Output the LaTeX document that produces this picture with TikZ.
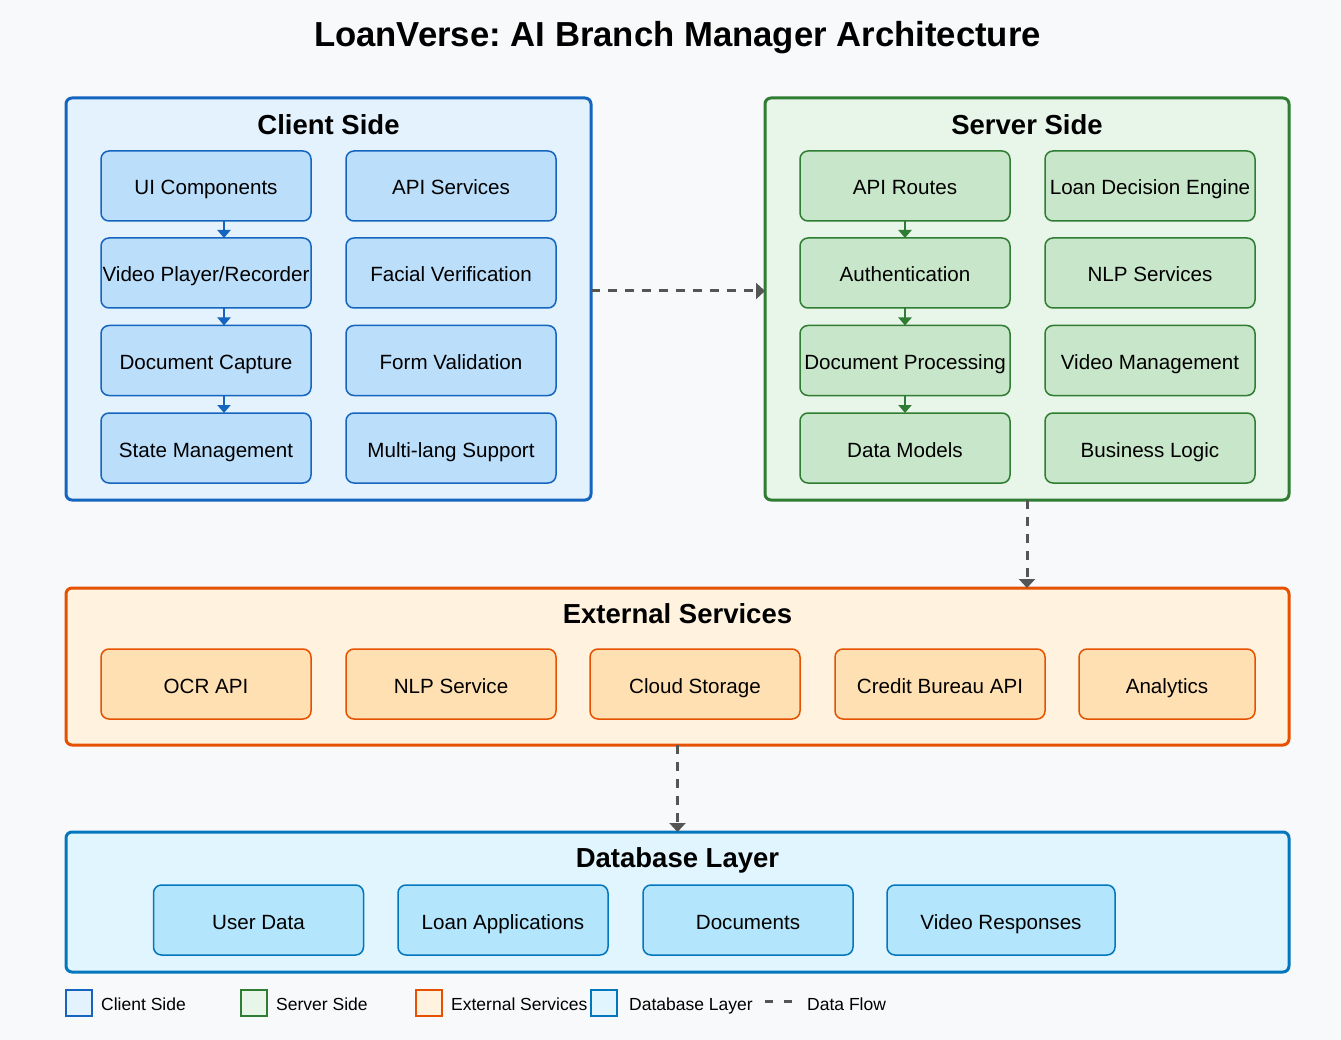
\documentclass[tikz,border=0pt]{standalone}
\usepackage{fontspec}
\setmainfont{Liberation Sans}
\usetikzlibrary{arrows.meta}
\newcommand\myfs[1]{\fontsize{#1}{#1}\selectfont}
\definecolor{bgc}{HTML}{F8F9FA}
\definecolor{cliS}{HTML}{1565C0}\definecolor{cliF}{HTML}{E3F2FD}\definecolor{cliI}{HTML}{BBDEFB}
\definecolor{srvS}{HTML}{2E7D32}\definecolor{srvF}{HTML}{E8F5E9}\definecolor{srvI}{HTML}{C8E6C9}
\definecolor{extS}{HTML}{E65100}\definecolor{extF}{HTML}{FFF3E0}\definecolor{extI}{HTML}{FFE0B2}
\definecolor{dbS}{HTML}{0277BD}\definecolor{dbF}{HTML}{E1F5FE}\definecolor{dbI}{HTML}{B3E5FC}
\definecolor{flow}{HTML}{555555}
\tikzset{
  outerbox/.style={draw, line width=3pt, rounded corners=6pt, inner sep=0pt, outer sep=0pt},
  innerbox/.style={draw, line width=1.5pt, rounded corners=8pt, minimum width=210pt, minimum height=70pt,
    inner sep=0pt, outer sep=0pt, font=\myfs{20.6}, text height=18pt, text depth=0pt},
  grptitle/.style={anchor=base, font=\bfseries\myfs{27.5}},
  cliB/.style={innerbox, draw=cliS, fill=cliI},
  srvB/.style={innerbox, draw=srvS, fill=srvI},
  extB/.style={innerbox, draw=extS, fill=extI},
  dbB/.style={innerbox, draw=dbS, fill=dbI},
  innerarrow/.style={line width=2pt, -{Triangle[width=13pt,length=8pt]}},
  flowarrow/.style={draw=flow, line width=3pt, dash pattern=on 8.5pt off 8.5pt, -{Triangle[width=16pt,length=9pt]}},
  legbox/.style={draw, line width=2pt, minimum width=26pt, minimum height=26pt, inner sep=0pt},
  legtext/.style={anchor=base west, font=\myfs{17.5}, inner sep=0pt}
}
\begin{document}
\frenchspacing
\begin{tikzpicture}[x=1pt,y=-1pt]
\fill[bgc] (0,0) rectangle (1341,1040);
\useasboundingbox (0,0) rectangle (1341,1040);

\node[anchor=base, font=\bfseries\myfs{34.7}] (title) at (677.5,46.5) {LoanVerse: AI Branch Manager Architecture};

% outer groups
\node[outerbox, draw=cliS, fill=cliF, minimum width=525pt, minimum height=402pt] (client) at (328.5,299) {};
\node[outerbox, draw=srvS, fill=srvF, minimum width=524pt, minimum height=402pt] (server) at (1027,299) {};
\node[outerbox, draw=extS, fill=extF, minimum width=1223pt, minimum height=157pt] (external) at (677.5,666.5) {};
\node[outerbox, draw=dbS, fill=dbF, minimum width=1223pt, minimum height=140pt] (database) at (677.5,902) {};

\node[grptitle] (clientT) at (328.5,135) {Client Side};
\node[grptitle] (serverT) at (1027,135) {Server Side};
\node[grptitle] (externalT) at (677.5,623) {External Services};
\node[grptitle] (databaseT) at (677.5,867) {Database Layer};

% client
\node[cliB] (ui) at (206,186) {UI Components};
\node[cliB] (vp) at (206,273) {Video Player/Recorder};
\node[cliB] (dc) at (206,360.5) {Document Capture};
\node[cliB] (sm) at (206,448) {State Management};
\node[cliB] (apis) at (451,186) {API Services};
\node[cliB] (fv) at (451,273) {Facial Verification};
\node[cliB] (fval) at (451,360.5) {Form Validation};
\node[cliB] (ml) at (451,448) {Multi-lang Support};

% server
\node[srvB] (ar) at (905,186) {API Routes};
\node[srvB] (auth) at (905,273) {Authentication};
\node[srvB] (dp) at (905,360.5) {Document Processing};
\node[srvB] (dm) at (905,448) {Data Models};
\node[srvB] (lde) at (1150,186) {Loan Decision Engine};
\node[srvB] (nlps) at (1150,273) {NLP Services};
\node[srvB] (vm) at (1150,360.5) {Video Management};
\node[srvB] (bl) at (1150,448) {Business Logic};

% external
\node[extB] (ocr) at (206,684) {OCR API};
\node[extB] (nlp) at (451,684) {NLP Service};
\node[extB] (cs) at (695,684) {Cloud Storage};
\node[extB] (cb) at (940,684) {Credit Bureau API};
\node[extB, minimum width=176pt] (an) at (1167,684) {Analytics};

% database
\node[dbB] (ud) at (258.5,920) {User Data};
\node[dbB] (la) at (503,920) {Loan Applications};
\node[dbB] (docs) at (748,920) {Documents};
\node[dbB, minimum width=228pt] (vr) at (1001,920) {Video Responses};

% inner arrows
\draw[innerarrow, cliS] ([xshift=18pt]ui.south) -- ([xshift=18pt]vp.north);
\draw[innerarrow, cliS] ([xshift=18pt]vp.south) -- ([xshift=18pt]dc.north);
\draw[innerarrow, cliS] ([xshift=18pt]dc.south) -- ([xshift=18pt]sm.north);
\draw[innerarrow, srvS] (ar.south) -- (auth.north);
\draw[innerarrow, srvS] (auth.south) -- (dp.north);
\draw[innerarrow, srvS] (dp.south) -- (dm.north);

% data flow
\draw[flowarrow] ([yshift=8pt]client.east) -- ([yshift=8pt]server.west);
\draw[flowarrow] (server.south) -- (external.north -| server.south);
\draw[flowarrow] (external.south) -- (database.north);

% legend
\node[legbox, draw=cliS, fill=cliF] (lg1) at (79,1003) {};
\node[legtext] (lt1) at (101,1010) {Client Side};
\node[legbox, draw=srvS, fill=srvF] (lg2) at (254,1003) {};
\node[legtext] (lt2) at (276,1010) {Server Side};
\node[legbox, draw=extS, fill=extF] (lg3) at (429,1003) {};
\node[legtext] (lt3) at (451,1010) {External Services};
\node[legbox, draw=dbS, fill=dbF] (lg4) at (604,1003) {};
\node[legtext] (lt4) at (629,1010) {Database Layer};
\coordinate (lfa) at (765,1001);
\coordinate (lfb) at (792,1001);
\draw[flow, line width=3pt, dash pattern=on 8pt off 11pt] (lfa) -- (lfb);
\node[legtext] (lt5) at (807,1010) {Data Flow};
\end{tikzpicture}
\end{document}
